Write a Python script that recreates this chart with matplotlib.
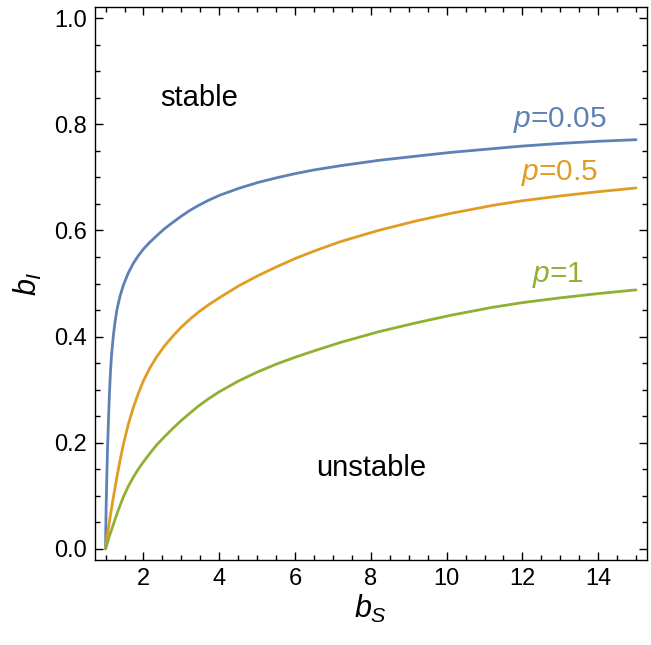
import numpy as np
import matplotlib
matplotlib.use('Agg')
import matplotlib.pyplot as plt
from matplotlib.ticker import MultipleLocator, FormatStrFormatter

plt.rcParams['font.family'] = ['Liberation Sans', 'DejaVu Sans']
plt.rcParams['mathtext.fontset'] = 'custom'
plt.rcParams['mathtext.it'] = 'Liberation Sans:italic'
plt.rcParams['mathtext.rm'] = 'Liberation Sans'

# curves (b_S, b_I)
bS_p005 = [1.0, 1.005, 1.015, 1.03, 1.05, 1.075, 1.1, 1.13, 1.16, 1.21, 1.25, 1.30, 1.38,
           1.47, 1.6, 1.74, 1.87, 2.0, 2.17, 2.35, 2.55, 2.79, 3.0, 3.23, 3.45, 3.72,
           4.0, 4.5, 5.0, 5.5, 6.0, 6.5, 7.2, 8.2, 9.2, 10.1, 11.2, 12.0, 13.0, 14.0, 15.0]
bI_p005 = [0.0, 0.035, 0.08, 0.13, 0.185, 0.24, 0.29, 0.335, 0.368, 0.405, 0.428, 0.451, 0.476,
           0.497, 0.520, 0.539, 0.553, 0.565, 0.578, 0.590, 0.603, 0.616, 0.627, 0.638, 0.647, 0.657,
           0.666, 0.679, 0.690, 0.699, 0.707, 0.714, 0.722, 0.732, 0.740, 0.747, 0.754, 0.759, 0.764, 0.768, 0.771]

bS_p05 = [1.0, 1.05, 1.12, 1.2, 1.3, 1.38, 1.47, 1.6, 1.74, 1.87, 2.0, 2.17, 2.35, 2.55,
          2.79, 3.0, 3.23, 3.45, 3.72, 4.0, 4.5, 5.0, 5.5, 6.0, 6.5, 7.2, 8.2, 9.2,
          10.1, 11.2, 12.0, 13.0, 14.0, 15.0]
bI_p05 = [0.0, 0.028, 0.060, 0.095, 0.136, 0.166, 0.197, 0.235, 0.268, 0.294, 0.317, 0.341, 0.362, 0.382,
          0.402, 0.418, 0.433, 0.446, 0.460, 0.473, 0.495, 0.514, 0.531, 0.547, 0.561, 0.579, 0.600, 0.618,
          0.632, 0.647, 0.656, 0.665, 0.673, 0.680]

bS_p1 = [1.0, 1.1, 1.21, 1.33, 1.47, 1.6, 1.74, 1.87, 2.0, 2.17, 2.35, 2.55, 2.79, 3.0,
         3.23, 3.45, 3.72, 4.0, 4.5, 5.0, 5.5, 6.0, 6.5, 7.2, 8.2, 9.2, 10.1, 11.2,
         12.0, 13.0, 14.0, 15.0]
bI_p1 = [0.0, 0.024, 0.047, 0.072, 0.098, 0.118, 0.136, 0.151, 0.164, 0.180, 0.196, 0.211, 0.228, 0.242,
         0.256, 0.269, 0.283, 0.296, 0.316, 0.333, 0.348, 0.361, 0.373, 0.389, 0.409, 0.426, 0.440, 0.455,
         0.464, 0.473, 0.481, 0.488]

labels = ['$p$=0.05', '$p$=0.5', '$p$=1']
colors = ['#5e81b5', '#e19c24', '#8fb032']
label_pos = [(12.98, 0.809), (12.98, 0.709), (12.93, 0.516)]

fig = plt.figure(figsize=(6.51, 6.45), dpi=100)
ax = fig.add_axes([0.1459, 0.1318, 0.8475, 0.8573])

for xs, ys, c in zip([bS_p005, bS_p05, bS_p1], [bI_p005, bI_p05, bI_p1], colors):
    ax.plot(xs, ys, color=c, lw=2.0, solid_capstyle='round', solid_joinstyle='round')

for lab, (lx, ly), c in zip(labels, label_pos, colors):
    ax.text(lx, ly, lab, color=c, fontsize=21.5, ha='center', va='center')

ax.text(3.47, 0.849, 'stable', fontsize=21, ha='center', va='center')
ax.text(8.01, 0.152, 'unstable', fontsize=21, ha='center', va='center')

ax.set_xlim(0.72, 15.28)
ax.set_ylim(-0.021, 1.021)
ax.xaxis.set_major_locator(MultipleLocator(2))
ax.xaxis.set_minor_locator(MultipleLocator(0.5))
ax.yaxis.set_major_locator(MultipleLocator(0.2))
ax.yaxis.set_minor_locator(MultipleLocator(0.05))
ax.yaxis.set_major_formatter(FormatStrFormatter('%.1f'))
ax.tick_params(which='both', direction='in', top=True, right=True, width=1.0, labelsize=17, pad=6)
ax.tick_params(which='major', length=6)
ax.tick_params(which='minor', length=3.5)
for s in ax.spines.values():
    s.set_linewidth(1.0)

ax.set_xlabel('$b_S$', fontsize=22, labelpad=2)
ax.set_ylabel('$b_I$', fontsize=22, labelpad=7)

fig.savefig('out.png', dpi=100)
